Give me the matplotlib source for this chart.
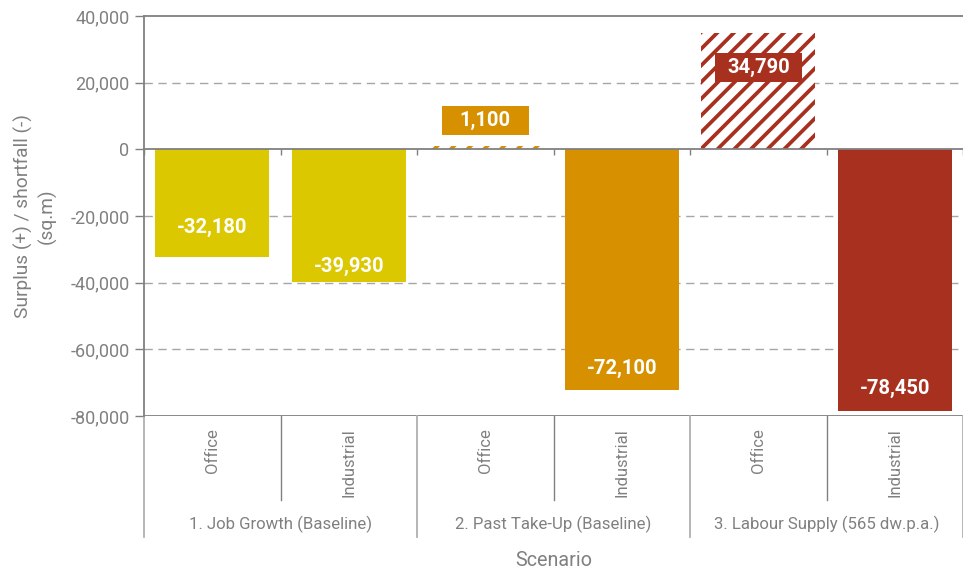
import numpy as np
import matplotlib
matplotlib.use("Agg")
import matplotlib.pyplot as plt
import matplotlib.transforms as mtransforms
from matplotlib.patches import Rectangle

# scenario results (sq.m)
groups = ["1. Job Growth (Baseline)", "2. Past Take-Up (Baseline)", "3. Labour Supply (565 dw.p.a.)"]
uses = ["Office", "Industrial"]
values = [-32180, -39930, 1100, -72100, 34790, -78450]
labels = ["-32,180", "-39,930", "1,100", "-72,100", "34,790", "-78,450"]
yticks = [40000, 20000, 0, -20000, -40000, -60000, -80000]

yellow = "#DCC800"
orange = "#D69000"
red = "#A8301F"
colors = [yellow, yellow, orange, orange, red, red]
hatched = [False, False, True, False, True, False]
# label nudges in points from the end of each bar
nudge = [21, 11.5, 18, 15, -24.5, 16]

grey = "#808080"
plt.rcParams["font.family"] = ["Roboto", "DejaVu Sans"]
plt.rcParams["hatch.linewidth"] = 2.7

fig = plt.figure(figsize=(9.63, 5.72), dpi=100)
ax = fig.add_axes([144 / 963, 156 / 572, 819 / 963, 400 / 572])

x = np.arange(len(values))
for i in range(len(values)):
    if hatched[i]:
        ax.bar(x[i], values[i], width=0.835, facecolor="white", edgecolor=colors[i],
               hatch="//", linewidth=0, zorder=3)
    else:
        ax.bar(x[i], values[i], width=0.835, color=colors[i], zorder=3)

    v = values[i]
    ax.annotate(labels[i], (x[i], v), xytext=(0, nudge[i]), textcoords="offset points",
                ha="center", va="center", color="white", fontsize=14.5, fontweight="bold", zorder=6)
    if v > 0:
        # fixed size callout box behind positive labels
        tbox = mtransforms.offset_copy(ax.transData, fig=fig, x=0, y=nudge[i], units="points")
        ax.add_patch(Rectangle((x[i] - 0.318, v - 4400), 0.636, 8800, transform=tbox,
                               facecolor=colors[i], edgecolor="none", zorder=5))

ax.set_xlim(-0.5, 5.5)
ax.set_ylim(-80000, 40000)
ax.set_yticks(yticks)
ax.set_yticklabels(["{:,}".format(t) for t in yticks])
ax.tick_params(axis="y", length=6.5, width=1, color=grey, labelcolor=grey, labelsize=13, pad=4)

# dashed grid, solid frame lines top and bottom
for t in yticks[1:-1]:
    if t != 0:
        ax.axhline(t, color="#A6A6A6", lw=1, ls=(0, (6, 4)), zorder=1)
ax.axhline(-80000, color=grey, lw=1.3, zorder=2)

ax.spines["right"].set_visible(False)
ax.spines["top"].set_color(grey)
ax.spines["top"].set_linewidth(1.3)
ax.spines["left"].set_color(grey)
ax.spines["left"].set_linewidth(1.3)
ax.spines["bottom"].set_position(("data", 0))
ax.spines["bottom"].set_color(grey)
ax.spines["bottom"].set_linewidth(1.3)
ax.spines["bottom"].set_zorder(4)
ax.set_xticks(np.arange(-0.5, 6, 1))
ax.tick_params(axis="x", length=4, width=1, color=grey, labelbottom=False, direction="out")

# category axis below the plot
tr = ax.get_xaxis_transform()
for i in range(len(values)):
    ax.text(x[i], -0.03, uses[i % 2], transform=tr, rotation=90, ha="center", va="top",
            color=grey, fontsize=12)
for b in [0.5, 2.5, 4.5]:
    ax.plot([b, b], [0, -0.21], transform=tr, color=grey, lw=1, clip_on=False)
for b in [-0.5, 1.5, 3.5, 5.5]:
    ax.plot([b, b], [0, -0.3025], transform=tr, color="#B0B0B0", lw=1.3, clip_on=False)
for g in range(len(groups)):
    ax.text(2 * g + 0.5, -0.27, groups[g], transform=tr, ha="center", va="center",
            color=grey, fontsize=12.1)

ax.text(0.5, -0.36, "Scenario", transform=ax.transAxes, ha="center", va="center",
        color=grey, fontsize=14.2)
fig.text(35 / 963, 1 - 216 / 572, "Surplus (+) / shortfall (-)\n(sq.m)", rotation=90,
         ha="center", va="center", color=grey, fontsize=13.8, linespacing=1.3)

plt.savefig("out.png", dpi=100)
